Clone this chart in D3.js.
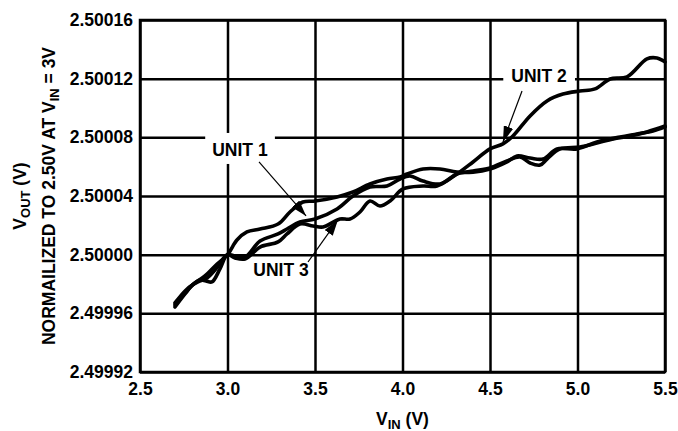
<!DOCTYPE html>
<html>
<head>
<meta charset="utf-8">
<script src="https://cdn.jsdelivr.net/npm/d3@7"></script>
<style>
  body { margin: 0; background: #fff; }
  svg text { font-family: "Liberation Sans", Arial, sans-serif; font-weight: bold; fill: #000; }
</style>
</head>
<body>
<div id="chart"></div>
<script>
var vinTicks = [2.5, 3.0, 3.5, 4.0, 4.5, 5.0, 5.5];
var voutTicks = [2.49992, 2.49996, 2.50000, 2.50004, 2.50008, 2.50012, 2.50016];

var unit1Vin = [2.70, 2.757, 2.814, 2.871, 2.929, 3.00, 3.054, 3.111, 3.186, 3.289, 3.357, 3.431, 3.50, 3.626, 3.717, 3.814, 3.911, 3.986, 4.026, 4.117, 4.214, 4.311, 4.403, 4.50, 4.597, 4.654, 4.729, 4.803, 4.883, 4.997, 5.111, 5.243, 5.34, 5.431, 5.50];
var unit1Vout = [2.4999657, 2.4999739, 2.4999807, 2.4999855, 2.4999923, 2.5000000, 2.5000100, 2.5000155, 2.5000175, 2.5000209, 2.5000291, 2.5000359, 2.5000366, 2.5000394, 2.5000427, 2.5000482, 2.5000516, 2.5000530, 2.5000550, 2.5000584, 2.5000584, 2.5000563, 2.5000563, 2.5000584, 2.5000632, 2.5000673, 2.5000659, 2.5000652, 2.5000721, 2.5000721, 2.5000768, 2.5000802, 2.5000823, 2.5000843, 2.5000871];

var unit2Vin = [2.70, 2.757, 2.803, 2.843, 2.877, 2.911, 2.957, 3.00, 3.043, 3.10, 3.186, 3.289, 3.34, 3.414, 3.489, 3.546, 3.643, 3.70, 3.757, 3.814, 3.871, 3.929, 4.003, 4.117, 4.197, 4.311, 4.403, 4.50, 4.574, 4.631, 4.729, 4.826, 4.917, 5.014, 5.10, 5.186, 5.283, 5.397, 5.454, 5.50];
var unit2Vout = [2.4999643, 2.4999732, 2.4999797, 2.4999828, 2.4999821, 2.4999814, 2.4999903, 2.5000000, 2.4999978, 2.4999971, 2.5000052, 2.5000087, 2.5000141, 2.5000209, 2.5000196, 2.5000189, 2.5000243, 2.5000243, 2.5000291, 2.5000366, 2.5000332, 2.5000366, 2.5000448, 2.5000468, 2.5000468, 2.5000550, 2.5000632, 2.5000721, 2.5000755, 2.5000809, 2.5000946, 2.5001048, 2.5001095, 2.5001116, 2.5001130, 2.5001198, 2.5001212, 2.5001335, 2.5001341, 2.5001314];

var unit3Vin = [2.70, 2.769, 2.831, 2.883, 2.934, 3.00, 3.043, 3.10, 3.186, 3.289, 3.34, 3.414, 3.50, 3.626, 3.717, 3.814, 3.911, 3.986, 4.043, 4.117, 4.214, 4.311, 4.403, 4.50, 4.597, 4.671, 4.729, 4.786, 4.826, 4.90, 5.014, 5.111, 5.203, 5.30, 5.397, 5.50];
var unit3Vout = [2.4999671, 2.4999766, 2.4999814, 2.4999841, 2.4999903, 2.5000000, 2.4999991, 2.4999984, 2.5000093, 2.5000141, 2.5000175, 2.5000223, 2.5000243, 2.5000312, 2.5000400, 2.5000461, 2.5000468, 2.5000516, 2.5000536, 2.5000502, 2.5000482, 2.5000550, 2.5000571, 2.5000591, 2.5000639, 2.5000666, 2.5000625, 2.5000611, 2.5000652, 2.5000721, 2.5000734, 2.5000761, 2.5000789, 2.5000809, 2.5000837, 2.5000877];

var fullWidth = 678;
var fullHeight = 431;
var margin = {top: 20, right: 13, bottom: 59, left: 140};
var width = fullWidth - margin.left - margin.right;
var height = fullHeight - margin.top - margin.bottom;

var svg = d3.select("#chart")
  .append("svg")
  .attr("width", fullWidth)
  .attr("height", fullHeight);

var g = svg.append("g")
  .attr("transform", "translate(" + margin.left + "," + margin.top + ")");

var xScale = d3.scaleLinear().domain([2.5, 5.5]).range([0, width]);
var yScale = d3.scaleLinear().domain([2.49992, 2.50016]).range([height, 0]);

var xAxis = d3.axisBottom(xScale).tickValues(vinTicks).tickFormat(d3.format(".1f"))
  .tickSize(-height).tickPadding(11);
var yAxis = d3.axisLeft(yScale).tickValues(voutTicks).tickFormat(d3.format(".5f"))
  .tickSize(-width).tickPadding(7);

var gx = g.append("g").attr("transform", "translate(0," + height + ")").call(xAxis);
var gy = g.append("g").call(yAxis);

[gx, gy].forEach(function(a) {
  a.select(".domain").remove();
  a.selectAll(".tick line").attr("stroke", "#000").attr("stroke-width", 2.5);
  a.selectAll(".tick text").style("font-size", "17.5px").attr("fill", "#000");
});

// frame
g.append("rect")
  .attr("width", width).attr("height", height)
  .attr("fill", "none").attr("stroke", "#000").attr("stroke-width", 2.5);

function unitLabel(txt, vx, vy) {
  return g.append("text")
    .attr("x", xScale(vx)).attr("y", yScale(vy))
    .attr("text-anchor", "middle")
    .style("font-size", "17.5px")
    .text(txt);
}

var lab1 = unitLabel("UNIT 1", 3.071, 2.5000673);
var lab2 = unitLabel("UNIT 2", 4.78, 2.5001177);
var lab3 = unitLabel("UNIT 3", 3.306, 2.4999855);

// white boxes that break the grid behind labels
[[lab1, 7, 7], [lab2, 8, 5]].forEach(function(p) {
  var b = p[0].node().getBBox();
  g.append("rect")
    .attr("x", b.x - p[1]).attr("y", b.y - p[2])
    .attr("width", b.width + 2 * p[1]).attr("height", b.height + p[2] + 4)
    .attr("fill", "#fff");
});
lab1.raise(); lab2.raise(); lab3.raise();

// curves
var line = d3.line()
  .x(function(d) { return xScale(d[0]); })
  .y(function(d) { return yScale(d[1]); })
  .curve(d3.curveCatmullRom.alpha(0.5));

var units = [
  d3.zip(unit1Vin, unit1Vout),
  d3.zip(unit2Vin, unit2Vout),
  d3.zip(unit3Vin, unit3Vout)
];

g.selectAll(".unit")
  .data(units)
  .enter().append("path")
  .attr("class", "unit")
  .attr("d", line)
  .attr("fill", "none")
  .attr("stroke", "#000")
  .attr("stroke-width", 3.6)
  .attr("stroke-linejoin", "round")
  .attr("stroke-linecap", "round");

// arrows
svg.append("defs").append("marker")
  .attr("id", "head")
  .attr("viewBox", "0 0 16 10")
  .attr("refX", 16).attr("refY", 5)
  .attr("markerWidth", 16).attr("markerHeight", 10)
  .attr("markerUnits", "userSpaceOnUse")
  .attr("orient", "auto")
  .append("path").attr("d", "M0,0 L16,5 L0,10 Z").attr("fill", "#000");

var arrows = [
  [3.18, 2.5000632, 3.449, 2.5000264],
  [4.683, 2.5001116, 4.574, 2.5000768],
  [3.46, 2.4999950, 3.631, 2.5000237]
];
arrows.forEach(function(a) {
  g.append("line")
    .attr("x1", xScale(a[0])).attr("y1", yScale(a[1]))
    .attr("x2", xScale(a[2])).attr("y2", yScale(a[3]))
    .attr("stroke", "#000").attr("stroke-width", 1.2)
    .attr("marker-end", "url(#head)");
});

// axis titles
var xt = svg.append("text")
  .attr("x", margin.left + width / 2).attr("y", 425)
  .attr("text-anchor", "middle")
  .style("font-size", "17.5px");
xt.append("tspan").text("V");
xt.append("tspan").attr("dy", 4).style("font-size", "13px").text("IN");
xt.append("tspan").attr("dy", -4).text(" (V)");

var yt1 = svg.append("text")
  .attr("transform", "translate(26," + (margin.top + height / 2) + ") rotate(-90)")
  .attr("text-anchor", "middle")
  .style("font-size", "17.5px");
yt1.append("tspan").text("V");
yt1.append("tspan").attr("dy", 4).style("font-size", "13px").text("OUT");
yt1.append("tspan").attr("dy", -4).text(" (V)");

var yt2 = svg.append("text")
  .attr("transform", "translate(55," + (margin.top + height / 2) + ") rotate(-90)")
  .attr("text-anchor", "middle")
  .style("font-size", "17.5px");
yt2.append("tspan").text("NORMAILIZED TO 2.50V AT V");
yt2.append("tspan").attr("dy", 4).style("font-size", "13px").text("IN");
yt2.append("tspan").attr("dy", -4).text(" = 3V");
</script>
</body>
</html>
